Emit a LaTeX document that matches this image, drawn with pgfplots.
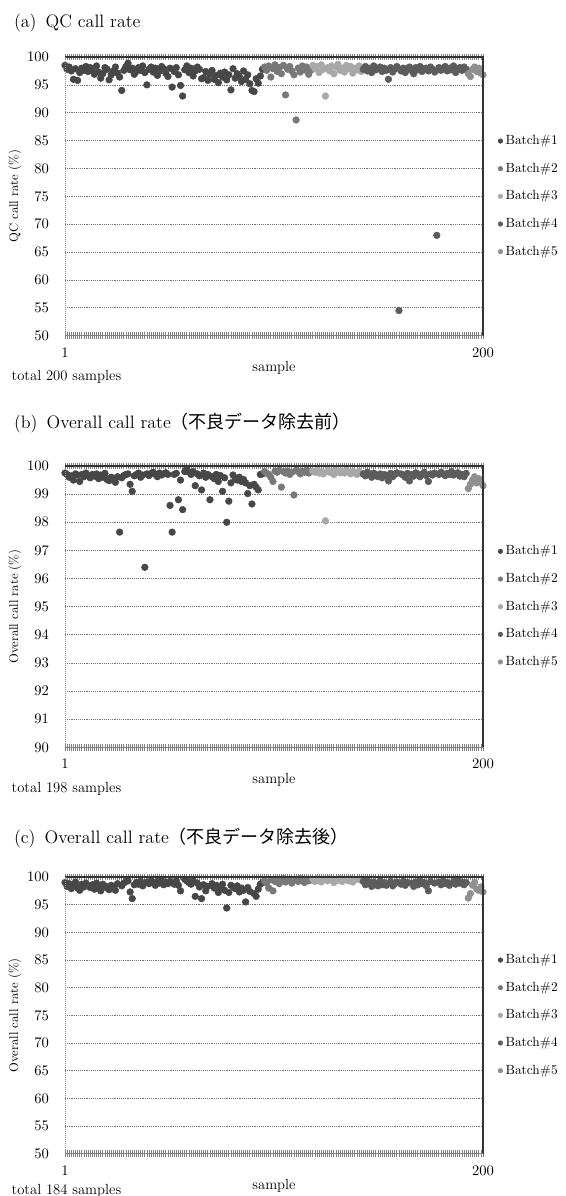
\documentclass[border=0pt]{standalone}
\usepackage{fontspec}
\usepackage{pgfplots}
\pgfplotsset{compat=1.18}
\newfontfamily\jp{Noto Sans CJK JP}

\definecolor{bA}{gray}{0.28}
\definecolor{bB}{gray}{0.47}
\definecolor{bC}{gray}{0.66}
\definecolor{bD}{gray}{0.36}
\definecolor{bE}{gray}{0.56}

\pgfplotsset{
  pt/.style={only marks, mark=*, mark size=2.5pt, color=#1,
    mark options={fill=#1, draw=#1},
    legend image code/.code={\fill[#1] (0.1cm,0cm) circle (1.7pt);}},
  panel/.style={
    scale only axis, width=313.5pt,
    xmin=1, xmax=200, clip=false,
    xtick={1,200}, minor xtick={1,...,200},
    axis line style={draw=none},
    tick align=center,
    xtick style={draw=black!50},
    minor tick style={line width=0.6pt},
    major tick length=5pt, minor tick length=5pt,
    ytick style={draw=none},
    ymajorgrids, grid style={densely dotted, black!55, line width=0.5pt},
    tick label style={font=\fontsize{11}{13}\selectfont},
    xticklabel style={yshift=-3pt},
    yticklabel style={xshift=-6pt},
    legend style={at={(1.035,0.5)}, anchor=west, draw=none, fill=none,
      font=\fontsize{10}{12}\selectfont, row sep=8.3pt, inner sep=0pt},
    legend cell align=left,
    after end axis/.code={
      \draw[black!80, line width=0.9pt] (rel axis cs:0,1) -- (rel axis cs:1,1) -- (rel axis cs:1,0);
      \draw[black!45, densely dotted, line width=0.5pt] (rel axis cs:0,0) -- (rel axis cs:0,1);
      \draw[black!50, line width=0.5pt] (rel axis cs:0,0) -- (rel axis cs:1,0);
    },
  },
}

\begin{document}
\begin{tikzpicture}
\useasboundingbox (0,0) rectangle (423.75pt,-897pt);

% ---------------- (a) QC call rate ----------------
\begin{axis}[panel, name=pa, height=209pt, ymin=50, ymax=100,
  ytick={50,55,...,100}, at={(48.75pt,-42.75pt)}, anchor=north west]
\addplot[pt=bA] coordinates {
(1,98.5)(2,97.8)(3,98.2)(4,97.5)(5,96.0)(6,97.9)(7,95.8)(8,97.2)(9,98.0)(10,97.6)
(11,98.3)(12,97.4)(13,98.1)(14,97.7)(15,96.9)(16,98.4)(17,97.3)(18,96.2)(19,97.0)(20,98.1)
(21,97.8)(22,95.9)(23,96.8)(24,97.5)(25,98.2)(26,97.1)(27,96.4)(28,94.0)(29,97.6)(30,98.3)
(31,98.9)(32,97.7)(33,98.0)(34,96.9)(35,97.4)(36,98.1)(37,97.6)(38,98.4)(39,97.2)(40,95.0)
(41,97.8)(42,98.2)(43,97.3)(44,98.0)(45,96.7)(46,97.5)(47,98.3)(48,97.9)(49,97.1)(50,96.5)
(51,98.0)(52,94.6)(53,97.4)(54,98.1)(55,96.8)(56,94.9)(57,93.0)(58,97.7)(59,98.4)(60,97.2)
(61,98.0)(62,96.6)(63,97.5)(64,98.2)(65,97.8)(66,96.1)(67,96.3)(68,97.4)(69,95.8)(70,96.9)
(71,97.6)(72,96.0)(73,96.7)(74,95.4)(75,97.1)(76,96.4)(77,97.3)(78,95.9)(79,96.8)(80,94.1)
(81,97.9)(82,96.2)(83,97.0)(84,96.5)(85,95.6)(86,97.5)(87,96.0)(88,96.8)(89,95.2)(90,94.0)
(91,93.8)(92,96.1)(93,95.3)(94,96.6)(95,97.8)};
\addplot[pt=bB] coordinates {
(96,98.2)(97,97.6)(98,98.4)(99,96.4)(100,97.9)(101,98.6)(102,97.4)(103,98.1)(104,97.0)(105,98.5)
(106,93.2)(107,97.8)(108,98.3)(109,97.5)(110,96.8)(111,88.7)(112,98.0)(113,97.3)(114,98.4)(115,97.7)
(116,98.2)(117,96.9)(118,97.6)};
\addplot[pt=bC] coordinates {
(119,98.5)(120,97.9)(121,98.3)(122,97.2)(123,98.6)(124,97.8)(125,93.0)(126,98.1)(127,97.5)(128,98.4)
(129,97.0)(130,98.2)(131,98.7)(132,97.6)(133,98.0)(134,97.3)(135,98.5)(136,97.9)(137,98.3)(138,97.1)
(139,98.0)(140,97.7)(141,98.4)(142,97.4)};
\addplot[pt=bD] coordinates {
(143,97.8)(144,98.3)(145,97.5)(146,98.0)(147,97.2)(148,98.4)(149,97.7)(150,97.9)(151,98.2)(152,97.4)
(153,98.0)(154,97.6)(155,96.0)(156,98.1)(157,97.3)(158,97.8)(159,98.3)(160,54.5)(161,97.5)(162,98.0)
(163,97.2)(164,97.9)(165,98.2)(166,97.6)(167,97.0)(168,98.1)(169,97.7)(170,98.3)(171,97.4)(172,97.9)
(173,98.0)(174,97.5)(175,98.2)(176,97.8)(177,97.3)(178,68.0)(179,98.1)(180,97.6)(181,97.9)(182,98.3)
(183,97.5)(184,98.0)(185,97.7)(186,98.4)(187,97.2)(188,97.9)(189,98.1)(190,97.6)(191,98.2)(192,97.8)};
\addplot[pt=bE] coordinates {
(193,97.0)(194,96.5)(195,97.8)(196,98.2)(197,97.4)(198,98.0)(199,97.1)(200,96.8)};
\legend{Batch\#1,Batch\#2,Batch\#3,Batch\#4,Batch\#5}
\end{axis}

% ---------------- (b) Overall call rate, before ----------------
\begin{axis}[panel, name=pb, height=211pt, ymin=90, ymax=100,
  ytick={90,91,...,100}, at={(48.75pt,-349.5pt)}, anchor=north west]
\addplot[pt=bA] coordinates {
(1,99.75)(2,99.70)(3,99.60)(4,99.65)(5,99.50)(6,99.72)(7,99.68)(8,99.45)(9,99.70)(10,99.62)
(11,99.75)(12,99.66)(13,99.58)(14,99.70)(15,99.64)(16,99.72)(17,99.55)(18,99.68)(19,99.60)(20,99.74)
(21,99.52)(22,99.48)(23,99.60)(24,99.55)(25,99.42)(26,99.62)(27,97.65)(28,99.58)(29,99.66)(30,99.70)
(31,99.72)(32,99.35)(33,99.10)(34,99.65)(35,99.70)(36,99.75)(37,99.60)(38,99.68)(39,96.40)(40,99.72)
(41,99.66)(42,99.74)(43,99.78)(44,99.70)(45,99.62)(46,99.75)(47,99.68)(48,99.72)(49,99.76)(50,99.70)
(51,98.60)(52,97.65)(53,99.70)(54,99.74)(55,98.80)(56,99.50)(57,98.45)(58,99.80)(59,99.92)(60,99.78)
(61,99.70)(62,99.80)(63,99.30)(64,99.72)(65,99.65)(66,99.15)(67,99.75)(68,99.60)(69,99.70)(70,98.80)
(71,99.62)(72,99.55)(73,99.70)(74,99.45)(75,99.66)(76,99.10)(77,99.58)(78,98.00)(79,98.75)(80,99.40)
(81,99.68)(82,99.55)(83,99.50)(84,99.60)(85,99.45)(86,99.52)(87,99.40)(88,99.02)(89,99.30)(90,98.65)
(91,99.35)(92,99.25)(93,99.15)(94,99.70)(95,99.72)};
\addplot[pt=bB] coordinates {
(96,99.80)(97,99.75)(98,99.70)(99,99.60)(100,99.45)(101,99.82)(102,99.78)(103,99.85)(104,99.25)(105,99.80)
(106,99.75)(107,99.82)(108,99.70)(109,99.78)(110,98.97)(111,99.85)(112,99.80)(113,99.72)(114,99.82)(115,99.78)
(116,99.85)(117,99.75)(118,99.80)};
\addplot[pt=bC] coordinates {
(119,99.82)(120,99.78)(121,99.85)(122,99.75)(123,99.80)(124,99.72)(125,98.05)(126,99.84)(127,99.78)(128,99.80)
(129,99.70)(130,99.85)(131,99.80)(132,99.76)(133,99.82)(134,99.75)(135,99.84)(136,99.78)(137,99.72)(138,99.80)
(139,99.76)(140,99.70)(141,99.82)(142,99.74)};
\addplot[pt=bD] coordinates {
(143,99.72)(144,99.65)(145,99.78)(146,99.70)(147,99.60)(148,99.75)(149,99.68)(150,99.62)(151,99.72)(152,99.58)
(153,99.70)(154,99.66)(155,99.47)(156,99.74)(157,99.62)(158,99.70)(159,99.76)(161,99.72)(162,99.68)
(163,99.60)(164,99.74)(165,99.47)(166,99.70)(167,99.64)(168,99.76)(169,99.72)(170,99.62)(171,99.70)(172,99.78)
(173,99.66)(174,99.45)(175,99.72)(176,99.68)(177,99.75)(179,99.70)(180,99.78)(181,99.72)(182,99.66)
(183,99.74)(184,99.70)(185,99.80)(186,99.68)(187,99.72)(188,99.76)(189,99.64)(190,99.70)(191,99.62)(192,99.74)};
\addplot[pt=bE] coordinates {
(193,99.20)(194,99.35)(195,99.50)(196,99.62)(197,99.40)(198,99.55)(199,99.45)(200,99.30)};
\legend{Batch\#1,Batch\#2,Batch\#3,Batch\#4,Batch\#5}
\end{axis}

% ---------------- (c) Overall call rate, after ----------------
\begin{axis}[panel, name=pc, height=207.5pt, ymin=50, ymax=100,
  ytick={50,55,...,100}, at={(48.75pt,-657.75pt)}, anchor=north west]
\addplot[pt=bA] coordinates {
(1,99.0)(2,98.3)(3,98.8)(4,97.9)(5,98.5)(6,99.1)(7,98.0)(8,97.6)(9,98.7)(10,98.2)
(11,98.9)(13,98.1)(14,98.6)(15,97.8)(16,98.9)(17,98.3)(18,97.5)(19,98.7)(20,98.4)
(21,98.0)(22,97.7)(23,98.5)(24,98.2)(25,97.6)(26,98.8)(28,98.4)(29,98.9)(30,99.2)
(31,99.3)(32,97.3)(33,96.1)(34,98.6)(35,99.0)(36,98.7)(37,99.2)(38,98.4)(40,99.1)
(41,98.8)(42,99.3)(43,99.0)(44,98.5)(45,99.2)(46,98.9)(47,99.4)(48,98.6)(49,99.1)(50,98.8)
(51,99.2)(53,98.7)(54,99.3)(55,98.5)(56,97.5)(58,99.6)(59,99.3)(60,99.0)
(61,98.7)(62,99.4)(63,96.5)(64,98.9)(65,98.2)(66,96.1)(67,98.6)(68,97.5)(69,98.3)
(71,98.8)(72,98.0)(73,98.5)(74,97.2)(75,98.0)(76,98.7)(77,97.6)(78,94.4)(79,97.2)(80,98.5)
(81,98.2)(82,97.9)(83,98.4)(84,97.3)(85,98.0)(86,97.6)(87,95.5)(88,98.1)(89,97.4)
(91,97.0)(92,96.5)(93,97.8)(94,98.7)(95,99.0)};
\addplot[pt=bB] coordinates {
(96,99.3)(97,98.9)(98,98.0)(99,99.5)(100,97.5)(101,99.2)(102,99.6)(103,98.8)(104,99.4)(105,99.7)
(106,99.1)(107,99.5)(108,99.3)(109,98.9)(111,99.6)(112,99.2)(113,99.7)(114,99.4)(115,99.0)
(116,99.6)(117,99.3)(118,99.5)};
\addplot[pt=bC] coordinates {
(119,99.6)(120,99.2)(121,99.7)(122,99.4)(123,99.1)(124,99.6)(126,99.3)(127,99.7)(128,99.5)
(129,99.0)(130,99.6)(131,99.4)(132,99.7)(133,99.2)(134,99.5)(135,99.6)(136,99.3)(137,99.7)(138,99.1)
(139,99.5)(141,99.6)(142,99.4)};
\addplot[pt=bD] coordinates {
(143,99.2)(144,98.6)(145,99.4)(146,98.9)(147,98.3)(148,99.1)(149,98.7)(150,98.4)(151,99.3)(152,98.6)
(153,99.0)(154,98.5)(156,99.2)(157,98.4)(158,98.8)(159,99.1)(161,98.7)(162,99.2)
(163,98.5)(164,99.0)(166,98.9)(167,98.3)(168,99.1)(169,98.6)(170,99.3)(171,98.8)(172,99.0)
(173,98.4)(174,97.5)(175,99.2)(177,98.9)(179,99.1)(180,98.6)(181,99.3)(182,98.8)
(183,99.0)(184,98.5)(186,99.2)(187,98.7)(188,99.4)(189,98.9)(190,99.1)(191,98.6)(192,99.0)};
\addplot[pt=bE] coordinates {
(193,96.2)(194,97.0)(195,98.5)(196,99.0)(197,97.8)(198,97.6)(199,98.2)(200,97.3)};
\legend{Batch\#1,Batch\#2,Batch\#3,Batch\#4,Batch\#5}
\end{axis}

% ---------------- titles and labels ----------------
\begin{scope}[font=\fontsize{13.5}{15}\selectfont]
\node[anchor=west] at (7pt,-17.25pt) {(a)\enspace QC call rate};
\node[anchor=west] at (7pt,-317.25pt) {(b)\enspace Overall call rate{\jp （不良データ除去前）}};
\node[anchor=west] at (7pt,-628.5pt) {(c)\enspace Overall call rate{\jp （不良データ除去後）}};
\end{scope}
\begin{scope}[font=\fontsize{9.5}{11}\selectfont]
\node[rotate=90] at ([xshift=-37.5pt]pa.west) {QC call rate (\%)};
\node[rotate=90] at ([xshift=-37.5pt]pb.west) {Overall call rate (\%)};
\node[rotate=90] at ([xshift=-37.5pt]pc.west) {Overall call rate (\%)};
\end{scope}
\begin{scope}[font=\fontsize{11}{13}\selectfont]
\node at ([yshift=-24pt]pa.south) {sample};
\node at ([yshift=-24pt]pb.south) {sample};
\node at ([yshift=-24pt]pc.south) {sample};
\node[anchor=west] at ([xshift=-43.5pt,yshift=-31pt]pa.south west) {total 200 samples};
\node[anchor=west] at ([xshift=-43.5pt,yshift=-31pt]pb.south west) {total 198 samples};
\node[anchor=west] at ([xshift=-43.5pt,yshift=-28pt]pc.south west) {total 184 samples};
\end{scope}
\end{tikzpicture}
\end{document}
